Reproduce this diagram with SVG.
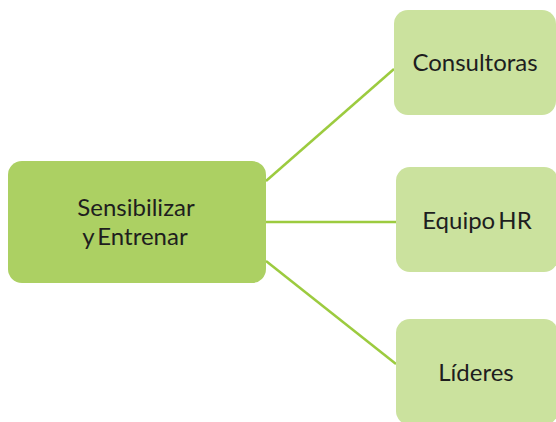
<svg xmlns="http://www.w3.org/2000/svg" width="556" height="422" viewBox="0 0 556 422">
<style>
.main{fill:#acd063}
.leaf{fill:#cbe29e}
.c{stroke:#9ccb3f;stroke-width:2.5;fill:none}
text{font-family:Lato,"Open Sans",sans-serif;font-size:24px;fill:#1e1e1e;text-anchor:middle;word-spacing:-3px}
</style>
<rect width="556" height="422" fill="#fff"/>
<g id="connectors">
<line class="c" x1="266" y1="181" x2="394" y2="69"/>
<line class="c" x1="266" y1="222" x2="396" y2="222"/>
<line class="c" x1="266" y1="261" x2="396" y2="364"/>
</g>
<g id="sensibilizar">
<rect class="main" x="8" y="161" width="258" height="122" rx="14"/>
<text x="136" y="216">Sensibilizar</text>
<text x="135" y="245">y Entrenar</text>
</g>
<g id="consultoras">
<rect class="leaf" x="394" y="10" width="162" height="105" rx="14"/>
<text x="475" y="71">Consultoras</text>
</g>
<g id="equipo-hr">
<rect class="leaf" x="396" y="167" width="162" height="105" rx="14"/>
<text x="477" y="229">Equipo HR</text>
</g>
<g id="lideres">
<rect class="leaf" x="396" y="319" width="162" height="106" rx="14"/>
<text x="476" y="381">Líderes</text>
</g>
</svg>
